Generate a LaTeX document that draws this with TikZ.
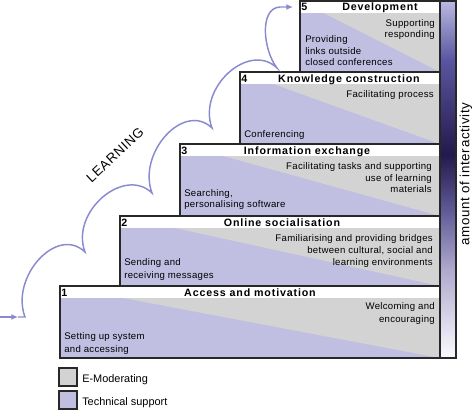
\documentclass[tikz,border=0pt]{standalone}
\usepackage{fontspec}
\setmainfont{Liberation Sans}
\newfontfamily\hdrfont[LetterSpace=8]{Liberation Sans}
\newfontfamily\txtfont[LetterSpace=3]{Liberation Sans}
\newfontfamily\sidefont[LetterSpace=5]{Liberation Sans}
\usetikzlibrary{arrows.meta}

\definecolor{modgray}{RGB}{211,211,211}
\definecolor{techblue}{RGB}{192,191,226}
\definecolor{arrowblue}{RGB}{138,138,208}
\definecolor{edge}{RGB}{40,40,40}
\definecolor{bar0}{RGB}{250,250,255}
\definecolor{bar1}{RGB}{175,170,205}
\definecolor{bar2}{RGB}{95,90,150}
\definecolor{bar3}{RGB}{35,25,75}
\definecolor{bar4}{RGB}{90,85,160}
\definecolor{bar5}{RGB}{185,185,225}
\pgfdeclareverticalshading{interact}{100bp}{color(0bp)=(bar0); color(25bp)=(bar0); color(37.3bp)=(bar1); color(45.7bp)=(bar2); color(53.5bp)=(bar3); color(66.7bp)=(bar4); color(75bp)=(bar5); color(100bp)=(bar5)}

\tikzset{
modfill/.style={fill=modgray},
techfill/.style={fill=techblue},
boxline/.style={draw=edge,line width=0.9pt},
hdr/.style={inner sep=0pt,font=\hdrfont\bfseries\fontsize{8}{9.6}\selectfont},
txt/.style={inner sep=0pt,font=\txtfont\fontsize{7.2}{8.6}\selectfont},
wide/.style={font=\txtfont\fontsize{7.2}{9.75}\selectfont},
legtxt/.style={inner sep=0pt,font=\fontsize{8.2}{10}\selectfont},
learnline/.style={draw=arrowblue,line width=1.1pt}
}

\begin{document}
\begin{tikzpicture}[x=0.75pt,y=0.75pt,yscale=-1,xscale=1]
\useasboundingbox (0,0) rectangle (473,410);

%Shape: Box 1
\fill[techfill] (60,286) rectangle (440,358);
\fill[modfill] (60,286) -- (440,286) -- (440,358) -- cycle;
\fill[white] (60,286) rectangle (440,298);
\draw[boxline] (60,286) rectangle (440,358);
%Shape: Box 2
\fill[techfill] (120,216) rectangle (440,286);
\fill[modfill] (120,216) -- (440,216) -- (440,286) -- cycle;
\fill[white] (120,216) rectangle (440,228);
\draw[boxline] (120,216) rectangle (440,286);
%Shape: Box 3
\fill[techfill] (180,144) rectangle (440,216);
\fill[modfill] (180,144) -- (440,144) -- (440,216) -- cycle;
\fill[white] (180,144) rectangle (440,156);
\draw[boxline] (180,144) rectangle (440,216);
%Shape: Box 4
\fill[techfill] (240,72) rectangle (440,144);
\fill[modfill] (240,72) -- (440,72) -- (440,144) -- cycle;
\fill[white] (240,72) rectangle (440,84);
\draw[boxline] (240,72) rectangle (440,144);
%Shape: Box 5
\fill[techfill] (300,1) rectangle (440,72);
\fill[modfill] (300,1) -- (440,1) -- (440,72) -- cycle;
\fill[white] (300,1) rectangle (440,13);
\draw[boxline] (300,1) rectangle (440,72);

%Shape: Interactivity bar
\shade[shading=interact] (440,1) rectangle (456,358);
\draw[boxline] (440,1) rectangle (456,358);

%Shape: Legend squares
\draw[boxline,modfill] (59,368) rectangle (77,386);
\draw[boxline,techfill] (59,391) rectangle (77,409);

%Curve Lines: learning steps
\coordinate (a0) at (0,317);
\coordinate (a0m) at (18,317);
\coordinate (c0) at (25,317);
\coordinate (c1) at (85,252);
\coordinate (c2) at (152,193);
\coordinate (c3) at (212,128);
\coordinate (c4) at (277,68);
\coordinate (c5) at (280,7);
\coordinate (a1) at (293,7);
\draw[learnline,-{Latex[length=5pt,width=4.5pt]}] (a0) -- (a0m);
\draw[learnline,-{Latex[length=5pt,width=4.5pt]}] (a0m) -- (c0) .. controls (10,277) and (57,225) .. (c1) .. controls (70,212) and (124,166) .. (c2) .. controls (137,153) and (184,101) .. (c3) .. controls (197,88) and (249,41) .. (c4) .. controls (263,50) and (259,8) .. (c5) -- (a1);

% Text Node
\node[hdr,anchor=base west] (n1) at (61,296) {1};
\node[hdr,anchor=base] (t1) at (250,296) {Access and motivation};
\node[hdr,anchor=base west] (n2) at (121,226) {2};
\node[hdr,anchor=base] (t2) at (282,226) {Online socialisation};
\node[hdr,anchor=base west] (n3) at (181,154) {3};
\node[hdr,anchor=base] (t3) at (307,154) {Information exchange};
\node[hdr,anchor=base west] (n4) at (241,82) {4};
\node[hdr,anchor=base] (t4) at (349,82) {Knowledge construction};
\node[hdr,anchor=base west] (n5) at (301,11) {5};
\node[hdr,anchor=base] (t5) at (380,11) {Development};

% Text Node
\node[txt,wide,anchor=north east,align=right] (r1) at (435,302.5) {Welcoming and\\encouraging};
\node[txt,wide,anchor=north west,align=left] (l1) at (64,332.5) {Setting up system\\and accessing};
\node[txt,font=\txtfont\fontsize{7.2}{9}\selectfont,anchor=north east,align=right] (r2) at (433,234) {Familiarising and providing bridges\\between cultural, social and\\learning environments};
\node[txt,wide,anchor=north west,align=left] (l2) at (124,258.5) {Sending and\\receiving messages};
\node[txt,anchor=north east,align=right] (r3) at (432,162.5) {Facilitating tasks and supporting\\use of learning\\materials};
\node[txt,anchor=north west,align=left] (l3) at (184,189) {Searching,\\personalising software};
\node[txt,anchor=north east,align=right] (r4) at (434,90.5) {Facilitating process};
\node[txt,anchor=north west,align=left] (l4) at (244,130.5) {Conferencing};
\node[txt,font=\txtfont\fontsize{7.2}{7.8}\selectfont,anchor=north east,align=right] (r5) at (435,19.5) {Supporting\\responding};
\node[txt,anchor=north west,align=left] (l5) at (305,35.5) {Providing\\links outside\\closed conferences};

% Text Node
\node[legtxt,anchor=base west] (leg1) at (82,382) {E-Moderating};
\node[legtxt,anchor=base west] (leg2) at (82,405) {Technical support};
\node[inner sep=0pt,font=\sidefont\fontsize{10}{12}\selectfont,rotate=43] (learn) at (115,155) {LEARNING};
\node[inner sep=0pt,font=\sidefont\fontsize{10}{12}\selectfont,rotate=90] (side) at (466,174) {amount of interactivity};

\end{tikzpicture}
\end{document}
